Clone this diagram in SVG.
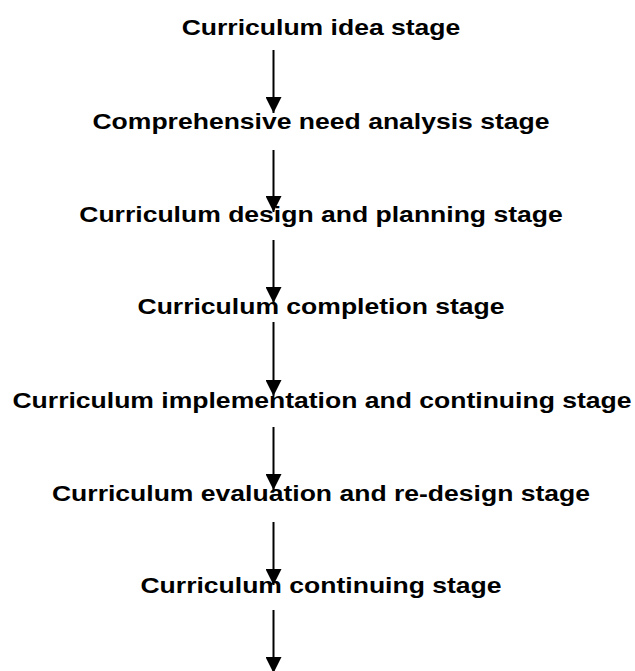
<svg xmlns="http://www.w3.org/2000/svg" width="635" height="671" viewBox="0 0 635 671">
  <defs>
    <style>
      .lbl { font-family: "Liberation Sans", Arial, sans-serif; font-weight: bold; font-size: 22.4px; fill: #000; text-anchor: middle; }
      .conn line { stroke: #000; stroke-width: 2; }
    </style>
    <marker id="ah" markerUnits="userSpaceOnUse" markerWidth="16" markerHeight="16" refX="15" refY="7.5" orient="auto" viewBox="0 0 15 15">
      <path d="M0,0 L15,7.5 L0,15 Z" fill="#000"/>
    </marker>
  </defs>
  <rect width="635" height="671" fill="#fff"/>
  <g id="connectors" class="conn">
    <line x1="273.5" y1="50" x2="273.5" y2="113" marker-end="url(#ah)"/>
    <line x1="273.5" y1="150" x2="273.5" y2="212" marker-end="url(#ah)"/>
    <line x1="273.5" y1="240" x2="273.5" y2="303" marker-end="url(#ah)"/>
    <line x1="273.5" y1="322" x2="273.5" y2="396" marker-end="url(#ah)"/>
    <line x1="273.5" y1="427" x2="273.5" y2="490" marker-end="url(#ah)"/>
    <line x1="273.5" y1="522" x2="273.5" y2="585" marker-end="url(#ah)"/>
    <line x1="273.5" y1="610" x2="273.5" y2="673" marker-end="url(#ah)"/>
  </g>
  <g id="n1"><text class="lbl" transform="translate(321,34.7) scale(1.185,1)">Curriculum idea stage</text></g>
  <g id="n2"><text class="lbl" transform="translate(321,129.3) scale(1.185,1)">Comprehensive need analysis stage</text></g>
  <g id="n3"><text class="lbl" transform="translate(321,221.7) scale(1.185,1)">Curriculum design and planning stage</text></g>
  <g id="n4"><text class="lbl" transform="translate(321,314.3) scale(1.185,1)">Curriculum completion stage</text></g>
  <g id="n5"><text class="lbl" transform="translate(322,408.3) scale(1.185,1)">Curriculum implementation and continuing stage</text></g>
  <g id="n6"><text class="lbl" transform="translate(321,500.7) scale(1.185,1)">Curriculum evaluation and re-design stage</text></g>
  <g id="n7"><text class="lbl" transform="translate(321,593.3) scale(1.185,1)">Curriculum continuing stage</text></g>
</svg>
